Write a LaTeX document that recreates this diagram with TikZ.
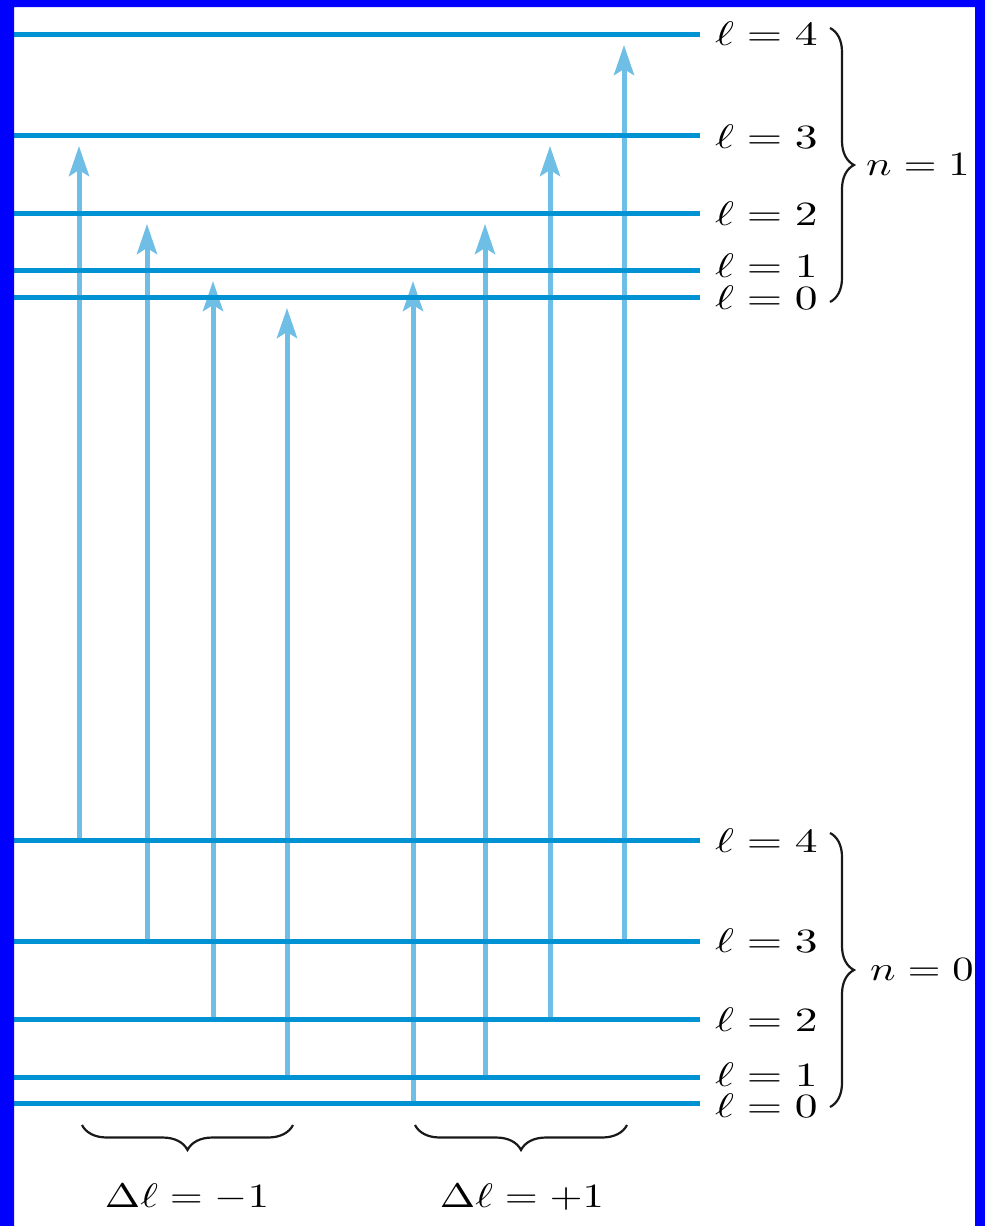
\documentclass[tikz,border=0pt]{standalone}
\usetikzlibrary{arrows.meta,decorations.pathreplacing}
\definecolor{levelblue}{RGB}{0,146,211}
\definecolor{arrowblue}{RGB}{110,190,230}
\definecolor{frameblue}{RGB}{0,0,255}
\newcommand{\mylab}[1]{\scalebox{4.55}[3.4]{$#1$}}
\newcommand{\grouplab}[1]{\scalebox{4.25}[3.4]{$#1$}}
\begin{document}
\begin{tikzpicture}[x=1pt,y=1pt,
 level/.style={levelblue,line width=5pt},
 trans/.style={arrowblue,line width=5pt,-{Stealth[length=30pt,width=20pt,inset=6pt]}},
 lvllab/.style={anchor=west,inner sep=0pt},
 grplab/.style={inner sep=0pt},
 grp/.style={decorate,decoration={brace,amplitude=24pt},line width=2.2pt,black!90},
]
\useasboundingbox (0,0) rectangle (985,-1226);
\fill[white] (0,0) rectangle (985,-1226);
% level end points
\foreach \n/\y in {u4/34,u3/135,u2/213,u1/270,u0/297,d4/840,d3/941,d2/1019,d1/1077,d0/1103}{
  \coordinate (\n L) at (14,-\y);
  \coordinate (\n R) at (700,-\y);
}
% transition end points
\foreach \i/\x/\ys/\yt in {1/79/840/146,2/147/941/224,3/213/1019/281,4/287/1077/308,5/413/1103/281,6/485/1077/224,7/550/1019/146,8/624/941/45}{
  \coordinate (s\i) at (\x,-\ys);
  \coordinate (t\i) at (\x,-\yt);
}
% transitions
\foreach \i in {1,...,8}{ \draw[trans] (s\i) -- (t\i); }
% levels
\foreach \n in {u4,u3,u2,u1,u0,d4,d3,d2,d1,d0}{ \draw[level] (\n L) -- (\n R); }
% level labels
\node[lvllab] (lu4) at (715,-34) {\mylab{\ell = 4}};
\node[lvllab] (lu3) at (715,-137) {\mylab{\ell = 3}};
\node[lvllab] (lu2) at (715,-214) {\mylab{\ell = 2}};
\node[lvllab] (lu1) at (715,-266) {\mylab{\ell = 1}};
\node[lvllab] (lu0) at (715,-298) {\mylab{\ell = 0}};
\node[lvllab] (ld4) at (715,-841) {\mylab{\ell = 4}};
\node[lvllab] (ld3) at (715,-941) {\mylab{\ell = 3}};
\node[lvllab] (ld2) at (715,-1020) {\mylab{\ell = 2}};
\node[lvllab] (ld1) at (715,-1075) {\mylab{\ell = 1}};
\node[lvllab] (ld0) at (715,-1106) {\mylab{\ell = 0}};
% n braces
\draw[grp] (830,-28) -- (830,-302);
\node[lvllab] (n1) at (866,-165) {\grouplab{n = 1}};
\draw[grp] (830,-833) -- (830,-1107);
\node[lvllab] (n0) at (870,-970) {\grouplab{n = 0}};
% delta l braces
\draw[grp,decoration={amplitude=25pt}] (293,-1125) -- (82,-1125);
\node[grplab] (dm) at (187,-1197) {\grouplab{\Delta\ell = -1}};
\draw[grp,decoration={amplitude=25pt}] (627,-1125) -- (415,-1125);
\node[grplab] (dp) at (522,-1197) {\grouplab{\Delta\ell = +1}};
% frame
\fill[frameblue,even odd rule] (0,0) rectangle (985,-1226) (14,-7) rectangle (975,-1230);
\end{tikzpicture}
\end{document}
